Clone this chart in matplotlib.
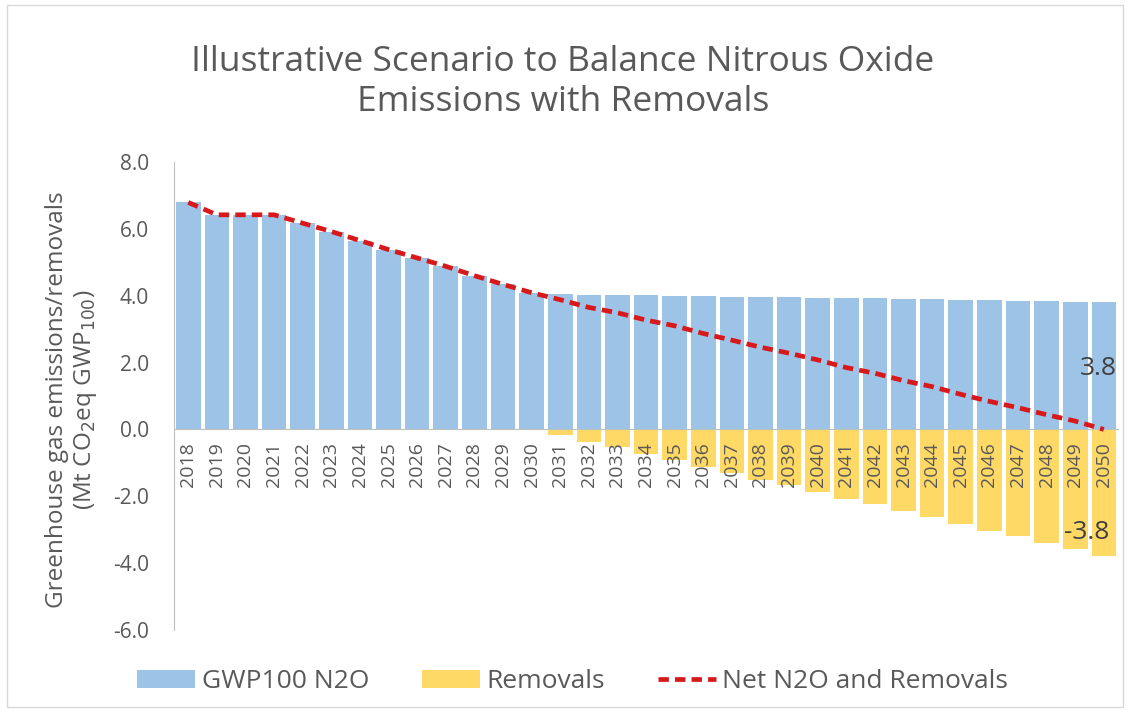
import matplotlib
matplotlib.use('Agg')
import matplotlib.pyplot as plt
from matplotlib.patches import Rectangle
from matplotlib.lines import Line2D
from matplotlib.patches import Patch

plt.rcParams['font.family'] = ['Open Sans', 'DejaVu Sans']

anos = [str(a) for a in range(2018, 2051)]
gwp100_n2o = [6.79, 6.42, 6.42, 6.42, 6.17, 5.92, 5.65, 5.38, 5.13, 4.88, 4.60, 4.34, 4.09,
              4.04, 4.03, 4.02, 4.01, 4.00, 3.99, 3.97, 3.96, 3.95, 3.94, 3.93, 3.92,
              3.90, 3.89, 3.88, 3.87, 3.85, 3.84, 3.82, 3.80]
remocoes = [0, 0, 0, 0, 0, 0, 0, 0, 0, 0, 0, 0, 0,
            -0.16, -0.38, -0.53, -0.74, -0.90, -1.12, -1.30, -1.50, -1.67, -1.86,
            -2.08, -2.24, -2.44, -2.61, -2.83, -3.03, -3.20, -3.40, -3.57, -3.80]
liquido = [g + r for g, r in zip(gwp100_n2o, remocoes)]

cinza = '#595959'
azul = '#9DC3E6'
amarelo = '#FFD966'
vermelho = '#D7191C'
tracejado = (0, (2.2, 1.3))

fig = plt.figure(figsize=(11.34, 7.13), dpi=100)
ax = fig.add_axes([0.1534, 0.1164, 0.8326, 0.6564])

x = list(range(len(anos)))
ax.bar(x, gwp100_n2o, width=0.86, color=azul, zorder=1)
ax.bar(x, remocoes, width=0.86, color=amarelo, zorder=1)
ax.plot(x, liquido, linestyle=tracejado, color=vermelho, linewidth=3.4, zorder=4)

ax.set_xlim(-0.5, len(anos) - 0.5)
ax.set_ylim(-6, 8)
ax.set_yticks([-6, -4, -2, 0, 2, 4, 6, 8])
ax.set_yticklabels(['%.1f' % v for v in [-6, -4, -2, 0, 2, 4, 6, 8]])
ax.set_xticks(x)
ax.set_xticklabels(anos)
ax.tick_params(axis='both', length=0, colors=cinza)
ax.tick_params(axis='y', pad=18, labelsize=15)
ax.tick_params(axis='x', pad=9, labelsize=14, labelrotation=90)
# rotulos dos anos por cima das barras
ax.xaxis.set_zorder(3)

ax.spines['bottom'].set_position(('data', 0))
ax.spines['bottom'].set_color('#BFBFBF')
ax.spines['bottom'].set_zorder(3)
ax.spines['left'].set_color('#BFBFBF')
ax.spines['top'].set_visible(False)
ax.spines['right'].set_visible(False)

# rotulos de dados do ultimo ano
ax.text(len(anos) - 1.2, gwp100_n2o[-1] * 0.48, '%.1f' % gwp100_n2o[-1],
        ha='center', va='center', fontsize=19, color='#404040', zorder=5)
ax.text(len(anos) - 1.6, remocoes[-1] * 0.81, '%.1f' % remocoes[-1],
        ha='center', va='center', fontsize=19, color='#404040', zorder=5)

fig.text(0.4965, 0.885, 'Illustrative Scenario to Balance Nitrous Oxide\nEmissions with Removals',
         ha='center', va='center', fontsize=25.5, color=cinza, linespacing=1.2)

fig.text(0.050, 0.44, 'Greenhouse gas emissions/removals', rotation=90,
         ha='center', va='center', fontsize=17.5, color=cinza)
fig.text(0.075, 0.44, r'(Mt CO$_2$eq GWP$_{100}$)', rotation=90,
         ha='center', va='center', fontsize=17.5, color=cinza)

handles = [Patch(facecolor=azul, edgecolor='none'),
           Patch(facecolor=amarelo, edgecolor='none'),
           Line2D([], [], color=vermelho, linestyle=tracejado, linewidth=3.4)]
fig.legend(handles, ['GWP100 N2O', 'Removals', 'Net N2O and Removals'],
           loc='center', bbox_to_anchor=(0.505, 0.0435), ncol=3, frameon=False,
           fontsize=19, labelcolor=cinza, handlelength=2.2, handleheight=0.65,
           handletextpad=0.25, columnspacing=2.0)

fig.patches.append(Rectangle((0.006, 0.008), 0.984, 0.985, transform=fig.transFigure,
                             fill=False, edgecolor='#D9D9D9', linewidth=1))

plt.savefig('out.png', dpi=100)
